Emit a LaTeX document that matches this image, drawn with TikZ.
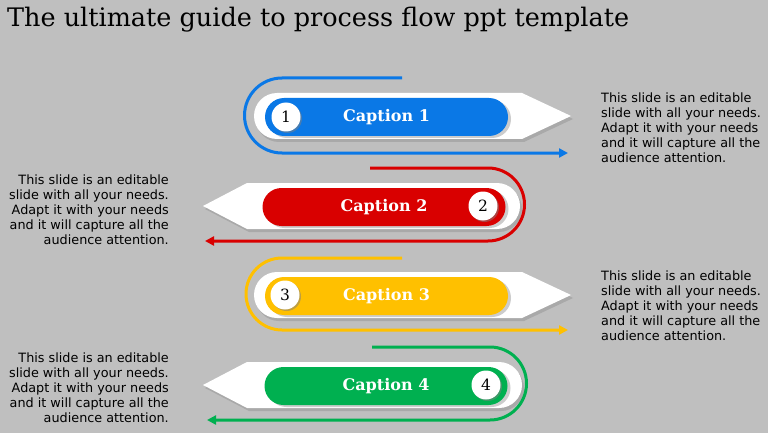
\documentclass[tikz,border=0pt]{standalone}
\usepackage{fontspec}
\setmainfont{DejaVu Sans}
\newfontfamily\captfont{DejaVu Serif}
\usetikzlibrary{arrows.meta,shadows}
\definecolor{bgray}{HTML}{BFBFBF}
\definecolor{cblue}{HTML}{0A78E6}
\definecolor{cred}{HTML}{D90000}
\definecolor{cyellow}{HTML}{FFC000}
\definecolor{cgreen}{HTML}{00B050}
\begin{document}
\begin{tikzpicture}[
	x=1pt, y=-1pt,
	body/.style={fill=white, drop shadow={shadow xshift=2pt, shadow yshift=-3pt, opacity=0.35}},
	pill/.style={shape=rectangle, rounded corners=19pt, minimum width=243pt, minimum height=38pt, inner sep=0pt, text=white, font=\captfont\bfseries\fontsize{16}{19}\selectfont, drop shadow={shadow xshift=3pt, shadow yshift=-2pt, opacity=0.4}},
	numnode/.style={shape=circle, fill=white, minimum size=29pt, inner sep=0pt, font=\captfont\fontsize{15.5}{18}\selectfont, drop shadow={shadow xshift=1.5pt, shadow yshift=-1.5pt, opacity=0.5}},
	flow/.style={line width=3pt, -{Triangle[length=9pt,width=9pt]}},
	note/.style={font=\fontsize{12.8}{15}\selectfont, inner sep=0pt},
]
\useasboundingbox (0,0) rectangle (768,433);
\fill[bgray] (0,0) rectangle (768,433);
\node[anchor=west, font=\captfont\fontsize{25.5}{30}\selectfont, inner sep=0pt] (title) at (7,20) {The ultimate guide to process flow ppt template};

% row 1
\path[body] (277,93) -- (522,93) -- (571,116) -- (522,139) -- (277,139) arc(90:270:23) -- cycle;
\draw[cblue, flow] (402,78) -- (282,78) arc(270:90:37.5) -- (568,153);
\node[pill, fill=cblue] (cap1) at (386.5,117) {Caption 1};
\node[numnode] (num1) at (286,117) {1};
\node[note, anchor=north west, align=left] (txt1) at (601,93) {This slide is an editable\\slide with all your needs.\\Adapt it with your needs\\and it will capture all the\\audience attention.};

% row 2
\path[body] (203,206) -- (247,183) -- (497,183) arc(-90:90:23) -- (247,229) -- cycle;
\draw[cred, flow] (370,168) -- (488,168) arc(-90:90:36.5) -- (205,241);
\node[pill, fill=cred] (cap2) at (384,207) {Caption 2};
\node[numnode] (num2) at (483,206) {2};
\node[note, anchor=north east, align=right] (txt2) at (169,175) {This slide is an editable\\slide with all your needs.\\Adapt it with your needs\\and it will capture all the\\audience attention.};

% row 3
\path[body] (277,272) -- (522,272) -- (571,295) -- (522,318) -- (277,318) arc(90:270:23) -- cycle;
\draw[cyellow, flow] (402,258) -- (282,258) arc(270:90:36) -- (568,330);
\node[pill, fill=cyellow] (cap3) at (386.5,296) {Caption 3};
\node[numnode] (num3) at (285,295) {3};
\node[note, anchor=north west, align=left] (txt3) at (601,271) {This slide is an editable\\slide with all your needs.\\Adapt it with your needs\\and it will capture all the\\audience attention.};

% row 4
\path[body] (203,385) -- (247,362) -- (499,362) arc(-90:90:23) -- (247,408) -- cycle;
\draw[cgreen, flow] (372,347) -- (490,347) arc(-90:90:36.5) -- (207,420);
\node[pill, fill=cgreen] (cap4) at (386,386) {Caption 4};
\node[numnode] (num4) at (486,385) {4};
\node[note, anchor=north east, align=right] (txt4) at (169,353) {This slide is an editable\\slide with all your needs.\\Adapt it with your needs\\and it will capture all the\\audience attention.};
\end{tikzpicture}
\end{document}
